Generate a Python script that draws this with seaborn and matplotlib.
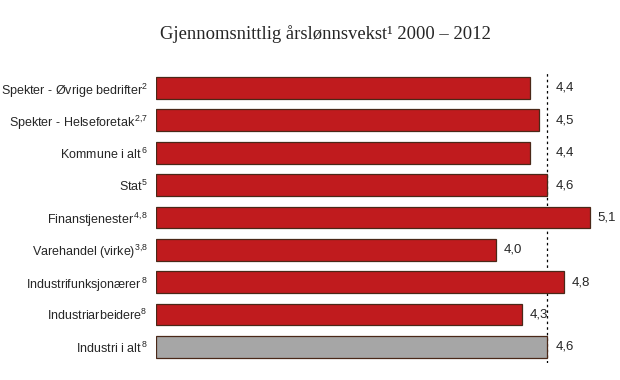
import matplotlib
matplotlib.use("Agg")
from matplotlib import pyplot as plt
import seaborn as sns
import numpy as np

# Data
categories = ["Spekter - Øvrige bedrifter$^{2}$",
              "Spekter - Helseforetak$^{\\,2{,}7}$",
              "Kommune i alt$^{\\,6}$",
              "Stat$^{5}$",
              "Finanstjenester$^{\\,4{,}8}$",
              "Varehandel (virke)$^{3{,}8}$",
              "Industrifunksjonærer$^{\\,8}$",
              "Industriarbeidere$^{8}$",
              "Industri i alt$^{\\,8}$"]
values = [4.4, 4.5, 4.4, 4.6, 5.1, 4.0, 4.8, 4.3, 4.6]
value_labels = ["4,4", "4,5", "4,4", "4,6", "5,1", "4,0", "4,8", "4,3", "4,6"]
reference = 4.6

red = "#C01B1E"
grey = "#A6A6A6"
colors = [red] * 8 + [grey]

sns.set_style("white")
plt.rcParams["font.family"] = ["Liberation Sans", "DejaVu Sans"]
plt.rcParams["mathtext.fontset"] = "custom"
plt.rcParams["mathtext.rm"] = "Liberation Sans"
plt.rcParams["mathtext.it"] = "Liberation Sans"

fig = plt.figure(figsize=(6.2, 3.8), dpi=100)
ax = fig.add_axes([0.252, 0.045, 0.727, 0.766])

sns.barplot(x=values, y=categories, hue=categories, palette=colors,
            legend=False, orient="h", width=0.67, saturation=1,
            edgecolor="#4a2818", linewidth=0.9, ax=ax)

ax.axvline(reference, color="black", lw=0.9, ls=(0, (2, 2.5)), zorder=0)

# labels: the ones near the reference line sit to the right of it
for i, (v, lab) in enumerate(zip(values, value_labels)):
    if abs(v - reference) <= 0.2:
        xpos = reference + 0.1
    else:
        xpos = v + 0.09
    ax.text(xpos, i, lab, va="center", ha="left", fontsize=9.5)

ax.set_xlim(0, 5.3)
ax.set_ylim(len(values) - 0.5, -0.5)
ax.set_xticks([])
ax.set_xlabel("")
ax.set_ylabel("")
ax.tick_params(axis="y", which="major", length=0, pad=6, labelsize=9)
ax.set_yticks(np.arange(len(values) + 1) - 0.5, minor=True)
ax.tick_params(axis="y", which="minor", length=3, width=0.8, direction="out")
for s in ax.spines.values():
    s.set_visible(False)

fig.text(0.525, 0.91, "Gjennomsnittlig årslønnsvekst¹ 2000 – 2012",
         ha="center", va="center", fontsize=13.4, family="Liberation Serif")

plt.savefig("out.png", dpi=100)
